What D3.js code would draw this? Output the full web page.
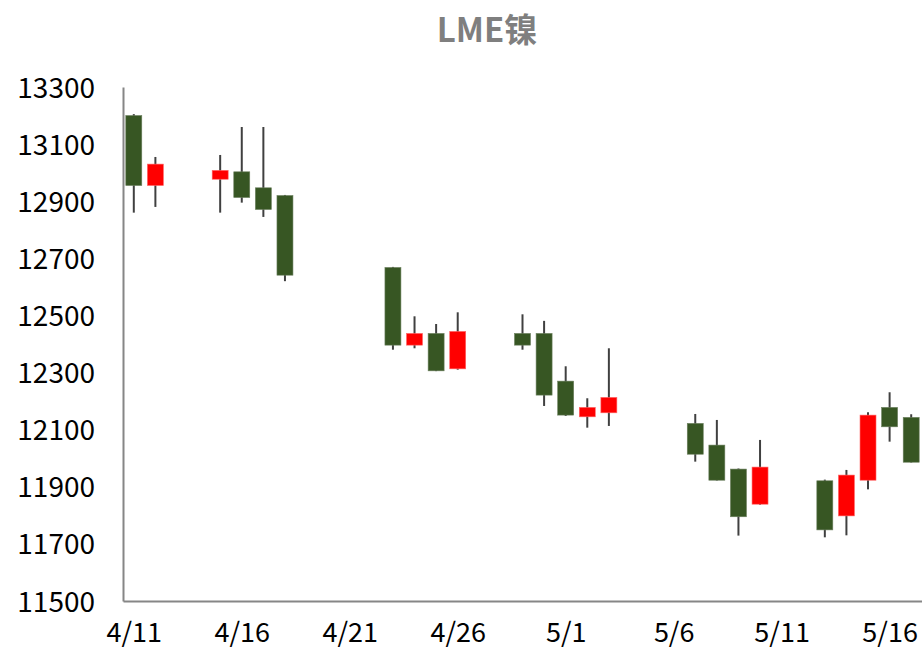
<!DOCTYPE html>
<html>
<head>
<meta charset="utf-8">
<script src="https://cdn.jsdelivr.net/npm/d3@7"></script>
<style>
  body { margin: 0; background: #fff; }
  text { font-family: "Noto Sans CJK SC", "Noto Sans", sans-serif; }
</style>
</head>
<body>
<div id="chart"></div>
<script>
// trading days
const dates = ["2019-04-11","2019-04-12","2019-04-15","2019-04-16","2019-04-17","2019-04-18",
    "2019-04-23","2019-04-24","2019-04-25","2019-04-26","2019-04-29","2019-04-30",
    "2019-05-01","2019-05-02","2019-05-03","2019-05-07","2019-05-08","2019-05-09",
    "2019-05-10","2019-05-13","2019-05-14","2019-05-15","2019-05-16","2019-05-17"];
// open / high / low / close
const openVals  = [13200,12955,12977,13003,12947,12920,12668,12396,12437,12313,12437,12437,
    12270,12145,12159,12122,12046,11962,11839,11921,11798,11923,12178,12143];
const highVals  = [13205,13055,13062,13160,13160,12922,12670,12497,12470,12511,12504,12481,
    12322,12210,12385,12155,12134,11964,12064,11925,11959,12161,12231,12154];
const lowVals   = [12860,12880,12860,12895,12845,12620,12380,12385,12305,12310,12380,12183,
    12148,12107,12113,11988,11922,11729,11837,11723,11730,11891,12058,11985];
const closeVals = [12955,13030,13008,12913,12871,12641,12396,12437,12306,12444,12396,12221,
    12151,12178,12213,12014,11923,11795,11969,11749,11941,12151,12110,11986];
// axis ticks
const yTicks = [11500,11700,11900,12100,12300,12500,12700,12900,13100,13300];
const xTickDates = ["2019-04-11","2019-04-16","2019-04-21","2019-04-26","2019-05-01","2019-05-06","2019-05-11","2019-05-16"];
const xTickLabels = ["4/11","4/16","4/21","4/26","5/1","5/6","5/11","5/16"];

let svgWidth = 922;
let svgHeight = 654;
let margin = { top: 87, bottom: 53, left: 123, right: 0 };
let width = svgWidth - margin.left - margin.right;
let height = svgHeight - margin.top - margin.bottom;

let parse = d3.timeParse("%Y-%m-%d");
let halfDay = 12 * 3600 * 1000;

let candles = dates.map((d, i) => ({
    date: parse(d),
    open: openVals[i],
    high: highVals[i],
    low: lowVals[i],
    close: closeVals[i]
}));

let svg = d3.select("#chart")
    .append("svg")
    .attr("width", svgWidth)
    .attr("height", svgHeight);

// title
svg.append("text")
    .attr("x", 487)
    .attr("y", 42)
    .attr("text-anchor", "middle")
    .attr("font-size", "33px")
    .attr("font-weight", "bold")
    .attr("fill", "#7f7f7f")
    .text("LME镍");

let chartGroup = svg.append("g")
    .attr("transform", `translate(${margin.left},${margin.top})`);

// scales
let xScale = d3.scaleTime()
    .domain([new Date(parse("2019-04-11") - halfDay), new Date(+parse("2019-05-17") + halfDay)])
    .range([0, width]);
let yScale = d3.scaleLinear()
    .domain([11500, 13300])
    .range([height, 0]);

let dayWidth = xScale(parse("2019-04-12")) - xScale(parse("2019-04-11"));
let bodyWidth = dayWidth * 0.74;

// axes
let bottomAxis = d3.axisBottom(xScale)
    .tickValues(xTickDates.map(parse))
    .tickFormat((d, i) => xTickLabels[i])
    .tickSize(0)
    .tickPadding(22);
let leftAxis = d3.axisLeft(yScale)
    .tickValues(yTicks)
    .tickFormat(d3.format("d"))
    .tickSize(0)
    .tickPadding(28);

let xAxisG = chartGroup.append("g")
    .attr("transform", `translate(0,${height})`)
    .call(bottomAxis);
let yAxisG = chartGroup.append("g")
    .call(leftAxis);

[xAxisG, yAxisG].forEach(g => {
    g.select(".domain").attr("stroke", "#868686").attr("stroke-width", 2);
    g.selectAll("text")
        .attr("font-size", "28px")
        .attr("fill", "#000");
});
yAxisG.selectAll("text").attr("dy", "0.36em");
xAxisG.selectAll("text").attr("font-size", "27px");

// candles
let candleGroup = chartGroup.selectAll(".candle")
    .data(candles)
    .enter()
    .append("g")
    .attr("class", "candle");

candleGroup.append("line")
    .attr("x1", d => xScale(d.date))
    .attr("x2", d => xScale(d.date))
    .attr("y1", d => yScale(d.high))
    .attr("y2", d => yScale(d.low))
    .attr("stroke", "#404040")
    .attr("stroke-width", 2);

candleGroup.append("rect")
    .attr("x", d => xScale(d.date) - bodyWidth / 2)
    .attr("y", d => yScale(Math.max(d.open, d.close)))
    .attr("width", bodyWidth)
    .attr("height", d => Math.max(1, Math.abs(yScale(d.open) - yScale(d.close))))
    .attr("fill", d => d.close >= d.open ? "#ff0000" : "#375623")
    .attr("stroke", d => d.close >= d.open ? "#ff6666" : "#6b7f5e")
    .attr("stroke-width", 0.6);
</script>
</body>
</html>
